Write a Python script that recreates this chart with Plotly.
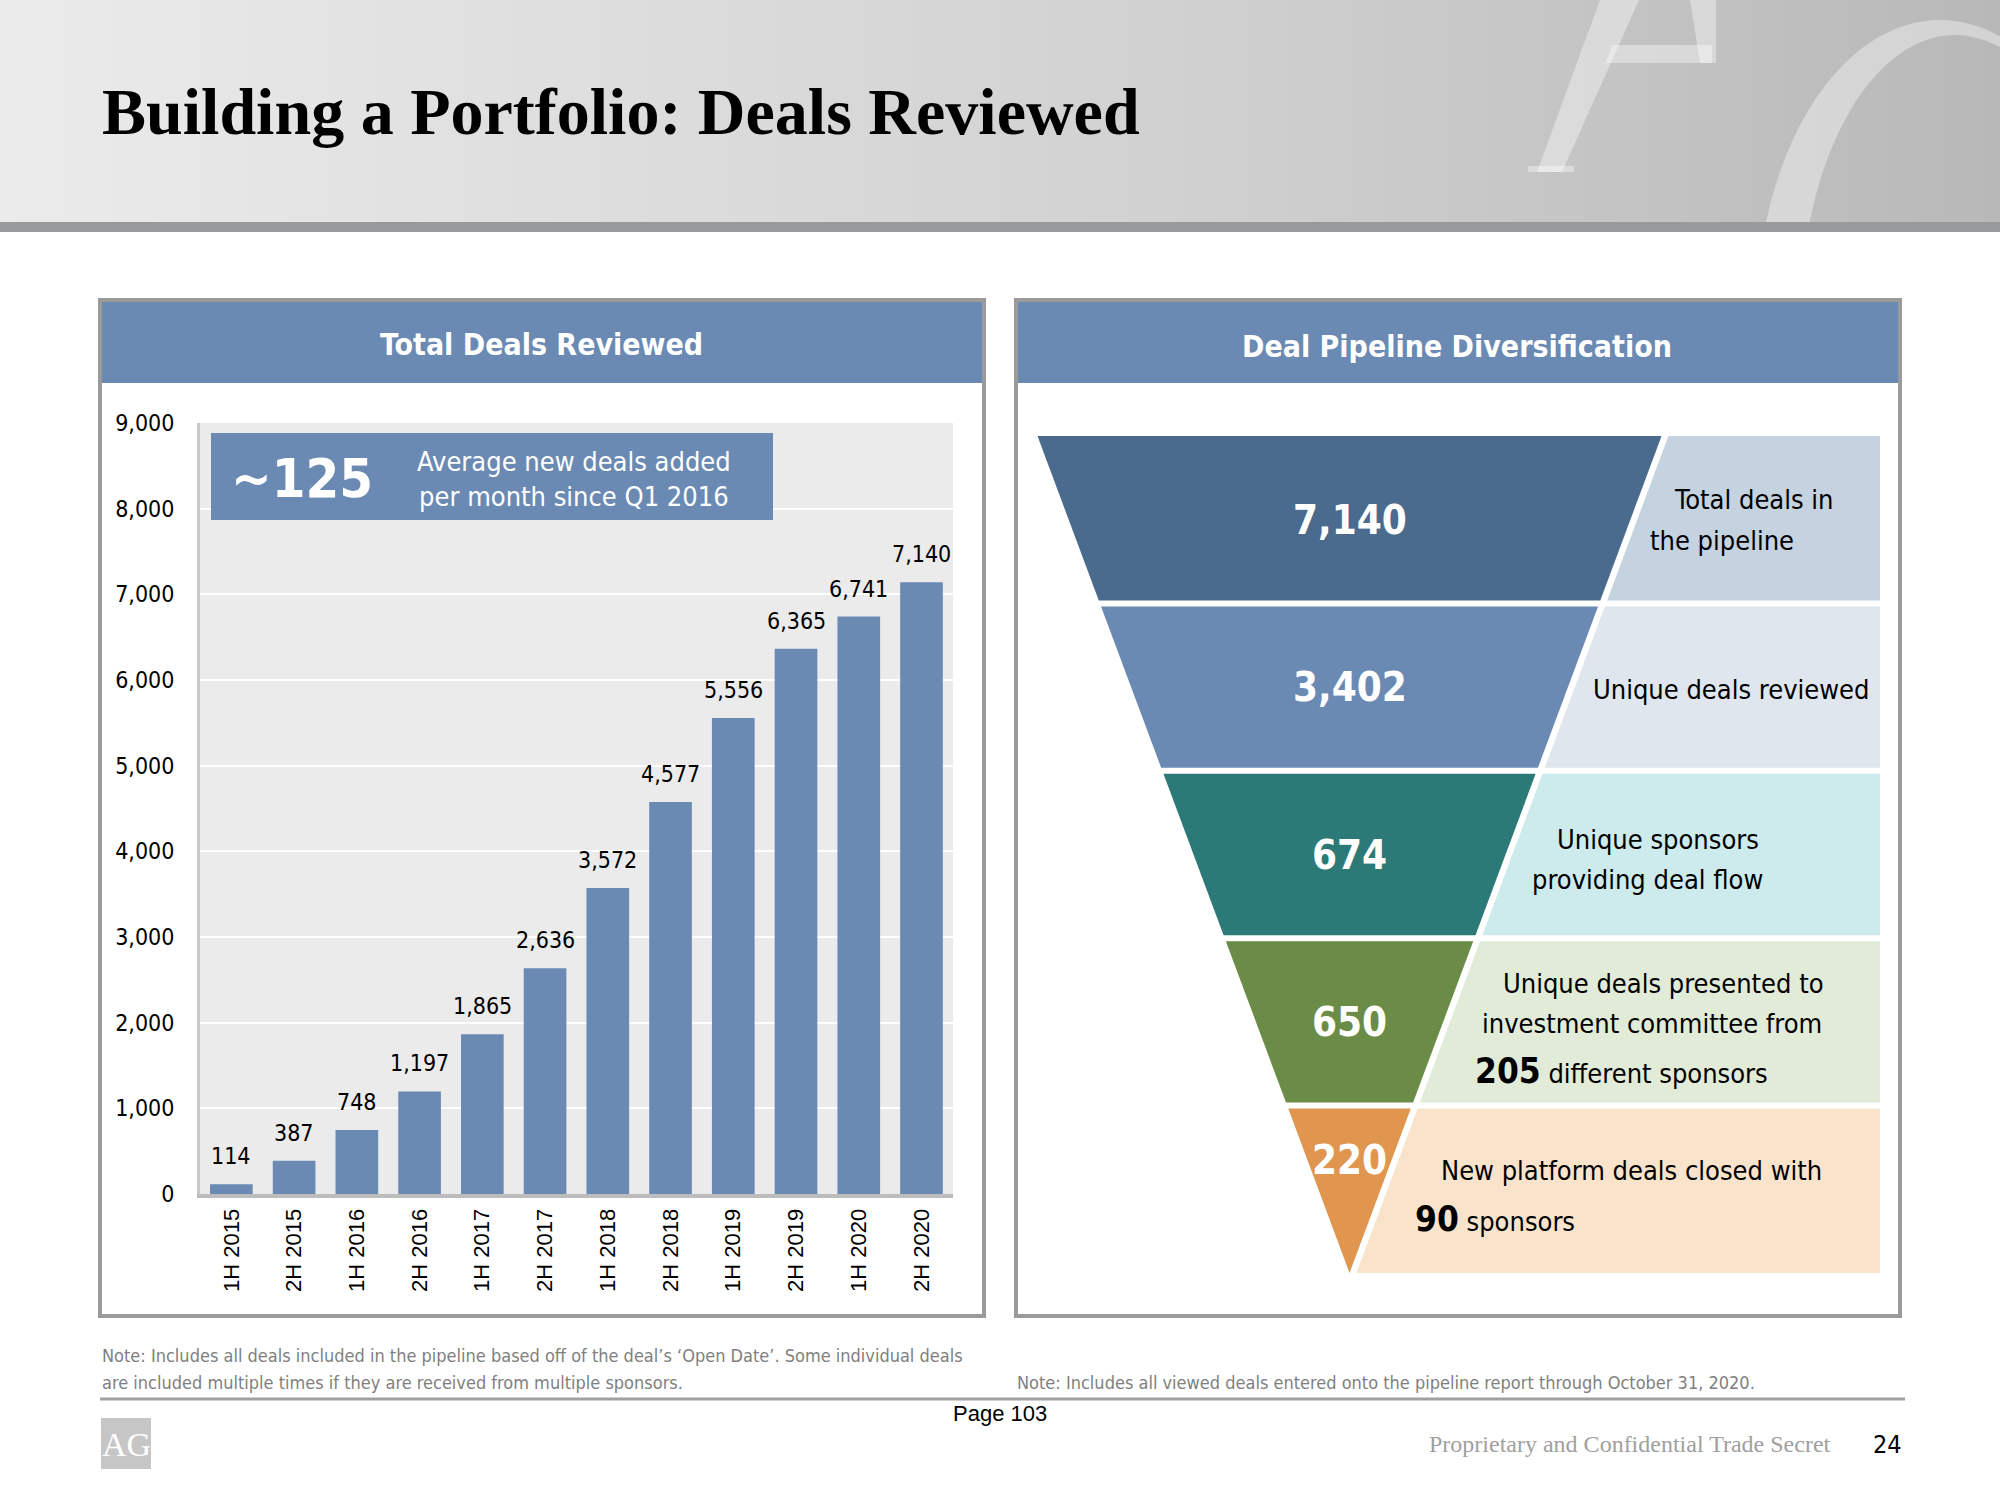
import numpy as np
import plotly.graph_objects as go

W, H = 2000, 1500

# ---------------- data ----------------
periods = ["1H 2015", "2H 2015", "1H 2016", "2H 2016", "1H 2017", "2H 2017",
           "1H 2018", "2H 2018", "1H 2019", "2H 2019", "1H 2020", "2H 2020"]
deals = [114, 387, 748, 1197, 1865, 2636, 3572, 4577, 5556, 6365, 6741, 7140]
y_ticks = [0, 1000, 2000, 3000, 4000, 5000, 6000, 7000, 8000, 9000]

funnel_values = [7140, 3402, 674, 650, 220]
funnel_colors = ["#4a6a8e", "#6a8ab3", "#2b7a78", "#6a8c46", "#e0964e"]
box_colors = ["#c5d2e0", "#dfe6ee", "#cdeaec", "#e1ebd8", "#f9e3cb"]

callout_value = "~125"
callout_text = "Average new deals added<br>per month since Q1 2016"

NARROW = "DejaVu Sans Condensed, DejaVu Sans, sans-serif"
SANS = "Liberation Sans, Arial, sans-serif"
SERIF = "Liberation Serif, Times New Roman, serif"
BLUE = "#6a8ab3"
WM = "rgba(255,255,255,0.38)"


def px(x):
    return x / W


def py(y):
    return 1 - y / H


def path_from(points):
    return "M " + " L ".join(f"{px(x):.5f},{py(y):.5f}" for x, y in points) + " Z"


fig = go.Figure()

# ---------------- header gradient ----------------
gx = np.linspace(0, 1, 80)
fig.add_trace(go.Heatmap(
    z=[gx, gx], x=gx, y=[0, 1], xaxis="x3", yaxis="y3",
    colorscale=[[0, "#ebebeb"], [0.6, "#d0d0d0"], [1, "#b8b8b8"]],
    showscale=False, hoverinfo="skip", zsmooth="best"))

# ---------------- bar chart ----------------
fig.add_trace(go.Bar(
    x=periods, y=deals, marker=dict(color=BLUE, line=dict(width=0)),
    width=0.68, hoverinfo="skip", showlegend=False))

annotations = []
for p, v in zip(periods, deals):
    annotations.append(dict(
        x=p, y=v, xref="x", yref="y", text=f"{v:,}", showarrow=False,
        yanchor="bottom", yshift=13,
        font=dict(family=NARROW, size=23, color="black")))

# ---------------- funnel ----------------
n = len(funnel_values)
gap_y = 0.036
gap_x = 0.022
box_right = 1.7


def half(y):
    return y / n


for i, (val, fc, bc) in enumerate(zip(funnel_values, funnel_colors, box_colors)):
    y_hi = n - i - (gap_y / 2 if i > 0 else 0)
    y_lo = n - i - 1 + (gap_y / 2 if i < n - 1 else 0)
    fig.add_trace(go.Scatter(
        x=[-half(y_hi), half(y_hi), half(y_lo), -half(y_lo), -half(y_hi)],
        y=[y_hi, y_hi, y_lo, y_lo, y_hi], fill="toself", fillcolor=fc,
        mode="lines", line=dict(width=0), xaxis="x2", yaxis="y2",
        hoverinfo="skip", showlegend=False))
    fig.add_trace(go.Scatter(
        x=[half(y_hi) + gap_x, box_right, box_right, half(y_lo) + gap_x, half(y_hi) + gap_x],
        y=[y_hi, y_hi, y_lo, y_lo, y_hi], fill="toself", fillcolor=bc,
        mode="lines", line=dict(width=0), xaxis="x2", yaxis="y2",
        hoverinfo="skip", showlegend=False))
    annotations.append(dict(
        x=0, y=n - i - 0.5, xref="x2", yref="y2", text=f"<b>{val:,}</b>",
        showarrow=False, yshift=(29 if i == n - 1 else 0),
        font=dict(family=NARROW, size=40, color="white")))

# funnel descriptions (paper positions)
desc = [
    ("Total deals in", 1754, 499, "center"),
    ("the pipeline", 1722, 540, "center"),
    ("Unique deals reviewed", 1731, 689, "center"),
    ("Unique sponsors", 1658, 839, "center"),
    ("providing deal flow", 1647, 879, "center"),
    ("Unique deals presented to", 1663, 983, "center"),
    ("investment committee from", 1652, 1023, "center"),
    ("<b><span style='font-size:35px'>205</span></b> different sponsors", 1473, 1071, "left"),
    ("New platform deals closed with", 1631, 1170, "center"),
    ("<b><span style='font-size:35px'>90</span></b> sponsors", 1413, 1219, "left"),
]
for t, x, y, anc in desc:
    annotations.append(dict(
        x=px(x), y=py(y), xref="paper", yref="paper", text=t, showarrow=False,
        xanchor=anc, yanchor="middle",
        font=dict(family=NARROW, size=27, color="black")))


# ---------------- static texts ----------------
def ptext(t, x, y, size, family, color="black", xanchor="left", bold=False):
    annotations.append(dict(
        x=px(x), y=py(y), xref="paper", yref="paper",
        text=(f"<b>{t}</b>" if bold else t), showarrow=False,
        xanchor=xanchor, yanchor="middle",
        font=dict(family=family, size=size, color=color)))


ptext("Building a Portfolio: Deals Reviewed", 100, 112, 66, SERIF, bold=True)
ptext("Total Deals Reviewed", 541, 344, 30, NARROW, "white", "center", True)
ptext("Deal Pipeline Diversification", 1457, 346, 30, NARROW, "white", "center", True)
ptext(callout_value, 302, 478, 54, NARROW, "white", "center", True)
annotations.append(dict(
    x=px(574), y=py(479), xref="paper", yref="paper", text=callout_text,
    showarrow=False, xanchor="center", yanchor="middle", align="center",
    font=dict(family=NARROW, size=27, color="white")))
ptext("Note: Includes all deals included in the pipeline based off of the deal\u2019s \u2018Open Date\u2019. Some individual deals",
      100, 1355, 18, NARROW, "#7f7f7f")
ptext("are included multiple times if they are received from multiple sponsors.",
      100, 1382, 18, NARROW, "#7f7f7f")
ptext("Note: Includes all viewed deals entered onto the pipeline report through October 31, 2020.",
      1015, 1382, 18, NARROW, "#7f7f7f")
ptext("Page 103", 1000, 1413, 22, SANS, "black", "center")
ptext("Proprietary and Confidential Trade Secret", 1833, 1444, 24, SERIF, "#a0a0a0", "right")
ptext("24", 1887, 1444, 25, NARROW, "black", "center")
ptext("AG", 126, 1444, 34, SERIF, "white", "center")

# ---------------- watermark "AG" (decorative strokes in header) ----------------
t = np.radians(np.linspace(165, 55, 60))
outer = [(1940 + 184 * np.cos(a), 320 - 300 * np.sin(a)) for a in t]
inner = [(1955 + 155 * np.cos(a), 322 - 287 * np.sin(a)) for a in t[::-1]]
wm_paths = [
    path_from([(1600, 0), (1639, 0), (1562, 172), (1537, 172)]),          # A left leg
    path_from([(1528, 166), (1574, 166), (1574, 172), (1528, 172)]),      # A foot
    path_from([(1612, 45), (1712, 45), (1712, 63), (1606, 63)]),          # A crossbar
    path_from([(1690, 0), (1716, 0), (1716, 63), (1700, 63)]),            # A right stroke
    path_from(outer + inner),                                             # G arc
]

# ---------------- shapes ----------------
shapes = [dict(type="path", xref="paper", yref="paper", path=p, fillcolor=WM,
               line=dict(width=0), layer="above") for p in wm_paths]
shapes += [
    dict(type="rect", xref="paper", yref="paper", x0=0, x1=1, y0=py(232), y1=py(222),
         fillcolor="#98999b", line=dict(width=0), layer="above"),
    dict(type="rect", xref="paper", yref="paper", x0=px(100), x1=px(984), y0=py(1316), y1=py(300),
         fillcolor="white", line=dict(color="#9a9a9a", width=4), layer="below"),
    dict(type="rect", xref="paper", yref="paper", x0=px(102), x1=px(982), y0=py(383), y1=py(302),
         fillcolor=BLUE, line=dict(width=0), layer="below"),
    dict(type="rect", xref="paper", yref="paper", x0=px(1016), x1=px(1900), y0=py(1316), y1=py(300),
         fillcolor="white", line=dict(color="#9a9a9a", width=4), layer="below"),
    dict(type="rect", xref="paper", yref="paper", x0=px(1018), x1=px(1898), y0=py(383), y1=py(302),
         fillcolor=BLUE, line=dict(width=0), layer="below"),
    dict(type="rect", xref="x domain", yref="y domain", x0=0, x1=1, y0=0, y1=1,
         fillcolor="#ebebeb", line=dict(width=0), layer="below"),
    dict(type="rect", xref="paper", yref="paper", x0=px(211), x1=px(773), y0=py(520), y1=py(433),
         fillcolor=BLUE, line=dict(width=0), layer="above"),
    dict(type="line", xref="paper", yref="paper", x0=px(100), x1=px(1905), y0=py(1399), y1=py(1399),
         line=dict(color="#a0a0a0", width=3)),
    dict(type="rect", xref="paper", yref="paper", x0=px(101), x1=px(151), y0=py(1469), y1=py(1418),
         fillcolor="#c6c6c6", line=dict(width=0), layer="below"),
]

fig.update_layout(
    width=W, height=H, margin=dict(l=0, r=0, t=0, b=0, pad=0, autoexpand=False),
    paper_bgcolor="white", plot_bgcolor="rgba(0,0,0,0)",
    showlegend=False, bargap=0.32,
    annotations=annotations, shapes=shapes,
    xaxis=dict(domain=[px(200), px(953)], type="category", tickangle=-90,
               tickfont=dict(family=SANS, size=22, color="black"),
               showgrid=False, ticks="", showline=True, linecolor="#bdbdbd",
               linewidth=4, ticklabelstandoff=2, fixedrange=True, automargin=False),
    yaxis=dict(domain=[py(1194), py(423)], range=[0, 9000], tickvals=y_ticks,
               tickformat=",", showgrid=True, gridcolor="white", gridwidth=2,
               zeroline=False, showline=True, linecolor="#c8c8c8", linewidth=3,
               ticks="", ticklabelstandoff=18, automargin=False,
               tickfont=dict(family=NARROW, size=23, color="black"), fixedrange=True),
    xaxis2=dict(domain=[px(1037.5), px(1880)], range=[-1, box_right], visible=False,
                fixedrange=True, automargin=False),
    yaxis2=dict(domain=[py(1273), py(436)], range=[0, n], visible=False,
                fixedrange=True, automargin=False),
    xaxis3=dict(domain=[0, 1], range=[0, 1], visible=False, fixedrange=True,
                automargin=False),
    yaxis3=dict(domain=[py(222), 1], range=[0, 1], visible=False, fixedrange=True,
                automargin=False),
)

page_js = ("document.body.style.margin='0';document.body.style.padding='0';"
           "document.body.style.overflow='hidden';"
           "var gd=document.getElementById('{plot_id}');"
           "gd.style.position='fixed';gd.style.left='0px';gd.style.top='0px';")

fig.write_html("out.html", post_script=page_js, config={"displayModeBar": False})
